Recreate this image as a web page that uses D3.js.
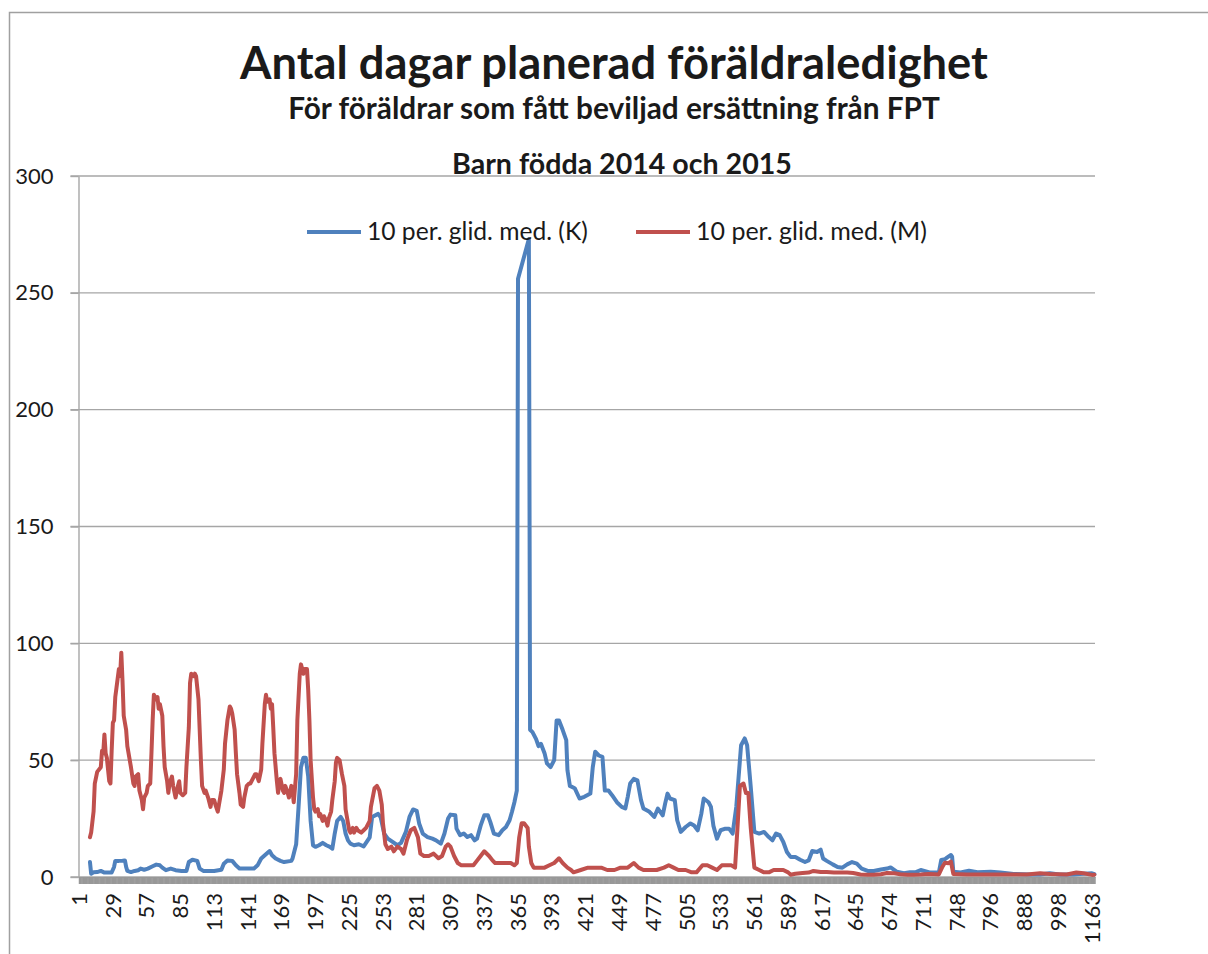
<!DOCTYPE html>
<html><head><meta charset="utf-8">
<script src="https://cdn.jsdelivr.net/npm/d3@7"></script>
<style>
body{margin:0;background:#fff}
svg text{font-family:Lato,"Open Sans",sans-serif;fill:#1a1a1a}
</style>
</head><body>
<svg id="chart" width="1208" height="954"></svg>
<script>
const titleText = "Antal dagar planerad föräldraledighet";
const subtitle1 = "För föräldrar som fått beviljad ersättning från FPT";
const subtitle2 = "Barn födda 2014 och 2015";
const seriesNames = ["10 per. glid. med. (K)", "10 per. glid. med. (M)"];
const seriesColors = ["#4f81bd", "#c0504d"];
const yTicks = [0, 50, 100, 150, 200, 250, 300];
const xTickLabels = ["1","29","57","85","113","141","169","197","225","253","281","309","337","365","393","421","449","477","505","533","561","589","617","645","674","711","748","796","888","998","1163"];
const categoryCount = 843;
const tickLabelStep = 28;

// [category index, value]
const seriesK = [[9,6.4],[10,1.4],[12,2],[15,2.1],[18,2.6],[21,1.9],[25,1.9],[27,1.9],[29,4.3],[30,6.9],[33,6.9],[36,7],[38,7.1],[39,4.3],[40,2.6],[43,2.1],[46,2.6],[49,2.9],[51,3.6],[54,3.1],[57,3.6],[61,4.6],[64,5.3],[67,5],[69,4],[72,2.9],[76,3.6],[80,2.9],[85,2.6],[89,2.6],[91,6.4],[94,7.4],[98,6.9],[100,3.6],[103,2.6],[107,2.6],[112,2.6],[118,3.1],[120,5.7],[123,7.1],[127,6.9],[130,5],[133,3.6],[137,3.6],[141,3.6],[145,3.6],[148,5],[151,7.9],[154,9.3],[158,11.1],[160,9.3],[163,7.9],[167,6.9],[170,6.4],[176,6.9],[177,7.9],[180,14],[182,30],[184,47],[186,51],[188,51],[190,43],[192,24],[194,13.6],[196,12.9],[199,13.6],[202,14.6],[205,13.6],[208,12.9],[210,12.1],[212,18.6],[214,24],[217,25.7],[219,24],[221,18.6],[223,15.7],[225,14.3],[228,13.6],[232,14],[236,13.1],[241,17],[243,25.7],[248,27],[250,25.7],[253,18.6],[256,16.4],[260,15],[264,13.6],[267,14.6],[271,19.3],[274,25.7],[277,28.9],[280,28.3],[282,22.9],[285,18.6],[289,17.1],[293,16.4],[296,15.7],[300,14.3],[303,18.6],[306,25],[308,26.7],[312,26.4],[313,20.7],[316,17.9],[319,18.6],[322,17.1],[325,17.9],[328,15.7],[330,16.4],[333,22],[336,26.4],[339,26.4],[341,23.6],[344,18.6],[348,17.9],[351,20],[354,21.4],[357,24.3],[359,27.9],[361,32],[363,37],[364,256],[373,273],[374,63],[376,62],[379,59],[381,56],[383,57],[386,53],[388,48.6],[391,47],[394,50],[396,67],[398,67],[401,63],[404,58.6],[405,45.7],[407,39],[411,38],[415,33.6],[419,34.3],[424,35.7],[426,47],[428,53.6],[431,52],[434,51.4],[436,37],[439,37],[442,35],[446,32],[450,30],[453,29.3],[455,34.3],[457,40],[460,42],[463,41.4],[466,32.9],[468,29.3],[473,27.9],[477,25.7],[480,29.3],[484,26.4],[486,31.4],[488,35.7],[490,33.6],[494,32.9],[496,24.3],[499,19.3],[503,21.4],[507,22.9],[510,22],[513,20],[516,27],[518,33.6],[522,32],[524,30],[526,22],[529,16.4],[532,20],[536,20.7],[539,20.7],[542,18.6],[545,30],[549,56.4],[552,59.3],[554,56.4],[557,38.6],[560,19.3],[564,18.6],[568,19.3],[572,17.1],[575,15.7],[578,18.6],[581,17.9],[584,15],[587,10.7],[590,8.6],[594,8.6],[598,7.4],[602,6.4],[605,7.1],[608,11.1],[612,10.7],[615,11.7],[617,7.9],[620,6.9],[625,5.4],[629,4.3],[633,4],[637,5.4],[641,6.4],[645,5.7],[649,3.6],[654,2.6],[659,2.6],[665,3.2],[670,3.6],[673,4.1],[678,2.3],[684,1.6],[689,2],[694,2.1],[698,3],[706,1.9],[713,1.9],[715,7.3],[718,7.6],[720,8.4],[723,9.4],[724,8.7],[725,2.3],[731,1.9],[738,2.7],[745,2],[756,2.3],[764,1.9],[775,1.3],[789,1.1],[797,1.1],[805,1.6],[813,1.1],[825,1.1],[830,1.3],[840,1.6],[842,1.2]];

const seriesM = [[9,17],[10,19],[12,28],[13,40],[15,45],[18,47],[19,54],[20,53],[21,61],[22,53],[23,51],[25,41],[26,40],[27,54],[28,66],[29,67],[30,77],[31,81],[33,89],[34,86],[35,96],[36,84],[37,69],[39,63],[40,56],[42,50],[43,47],[45,40],[46,39],[47,43],[49,44],[50,37],[52,33],[53,29],[54,34],[56,36],[57,39],[59,40],[60,53],[61,67],[62,78],[64,76],[65,77],[66,72],[67,74],[69,69],[70,56],[71,47],[73,41],[74,36],[75,40],[77,43],[78,39],[80,34],[82,39],[83,41],[84,36],[86,35],[88,36],[89,47],[91,64],[92,83],[93,87],[95,86],[96,87],[97,86],[99,76],[100,63],[101,50],[102,39],[104,36],[105,37],[107,34],[109,30],[110,33],[112,33],[113,31],[115,28],[116,31],[118,37],[120,46],[121,57],[123,67],[125,73],[126,72],[127,70],[129,63],[130,53],[131,44],[133,36],[134,31],[136,30],[137,34],[139,39],[141,40],[142,40],[144,42],[146,44],[147,44],[149,41],[151,46],[152,57],[154,74],[155,78],[156,75],[158,76],[159,72],[160,74],[161,64],[162,53],[164,41],[165,36],[166,40],[167,42],[169,37],[170,36],[171,39],[173,36],[174,34],[176,39],[177,37],[178,32],[180,44],[181,67],[183,87],[184,91],[186,87],[187,89],[189,89],[190,80],[191,67],[192,50],[194,34],[195,29],[196,28],[198,29],[199,26],[200,27],[202,24],[203,26],[205,24],[206,22],[207,25],[209,28],[210,33],[212,41],[213,49],[214,51],[216,50],[217,47],[218,44],[220,39],[221,29],[222,26],[223,23],[224,20],[225,19],[227,21],[228,19],[230,21],[231,20],[234,19],[236,20],[238,21],[241,24],[242,30],[245,38],[247,39],[249,37],[251,31],[252,23],[254,14],[256,12],[259,13],[261,11],[264,13],[267,12],[269,10],[272,16],[275,20],[278,21],[281,17],[283,10],[286,9],[290,9],[294,10],[298,8],[301,9],[304,13],[306,14],[308,13],[311,9],[314,6],[317,5],[322,5],[327,5],[330,7],[333,9],[336,11],[340,9],[343,7],[345,6],[350,6],[354,6],[358,6],[361,5],[363,6],[365,17],[367,23],[369,23],[372,21],[373,13],[375,6],[377,4],[382,4],[386,4],[390,5],[394,6],[398,8],[401,6],[405,4],[408,3],[410,2],[416,3],[422,4],[427,4],[433,4],[438,3],[444,3],[449,4],[455,4],[460,6],[464,4],[468,3],[474,3],[479,3],[485,4],[489,5],[493,4],[497,3],[503,3],[508,2],[512,2],[517,5],[521,5],[525,4],[529,3],[533,5],[537,5],[541,5],[544,4],[546,21],[548,39],[551,40],[553,36],[555,36],[557,21],[560,4],[564,3],[568,2],[572,2],[576,3],[580,3],[584,3],[588,2],[590,1],[594,1.4],[600,1.7],[605,1.9],[609,2.6],[615,2.1],[620,2.1],[626,1.9],[631,1.9],[637,1.9],[642,1.7],[648,1.1],[654,1],[659,1],[665,1.2],[670,1.7],[676,1.6],[681,1.2],[687,1],[692,1],[698,1.1],[705,1.3],[713,1.1],[716,4.4],[718,6.1],[721,5.9],[723,6.6],[725,1.3],[736,1.1],[753,1.1],[769,1.1],[786,1.1],[797,1.6],[805,1.3],[819,1.1],[827,1.9],[833,1.6],[840,0.9],[842,1]];

const svg = d3.select("#chart");
const plotLeft = 78.5, plotRight = 1095, plotTop = 176, plotBottom = 877;
const gridColor = "#a6a6a6";

const x = d3.scaleLinear().domain([-0.5, categoryCount - 0.5]).range([plotLeft, plotRight]);
const y = d3.scaleLinear().domain([0, 300]).range([plotBottom, plotTop]);

// outer frame
svg.append("path").attr("d", `M9.5,954 V12.5 H1208`).attr("fill", "none")
  .attr("stroke", "#a0a0a0").attr("stroke-width", 1.5);

// gridlines
svg.append("g").selectAll("line").data(yTicks).join("line")
  .attr("x1", plotLeft - 8).attr("x2", plotRight)
  .attr("y1", d => y(d)).attr("y2", d => y(d))
  .attr("stroke", gridColor).attr("stroke-width", 1.4);

// y axis
const yAxis = svg.append("g").attr("transform", `translate(${plotLeft},0)`)
  .call(d3.axisLeft(y).tickValues(yTicks).tickSize(8).tickPadding(17).tickSizeOuter(0));
yAxis.select(".domain").attr("stroke", gridColor).attr("stroke-width", 1.4);
yAxis.selectAll(".tick line").attr("stroke", gridColor).attr("stroke-width", 1.4);
yAxis.selectAll(".tick text").attr("font-size", 22).attr("font-family", "Lato").attr("fill", "#1a1a1a");

// x axis (dense category ticks)
const xAxis = svg.append("g").attr("transform", `translate(0,${plotBottom})`)
  .call(d3.axisBottom(x).tickValues(d3.range(categoryCount)).tickSize(7).tickSizeOuter(0).tickFormat(""));
xAxis.select(".domain").attr("stroke", "#999").attr("stroke-width", 1.2);
xAxis.selectAll(".tick line").attr("stroke", "#989898").attr("stroke-width", 1.7);

// x tick labels
svg.append("g").selectAll("text").data(xTickLabels).join("text")
  .attr("transform", (d, i) => `translate(${x(i * tickLabelStep)},${plotBottom + 16}) rotate(-90)`)
  .attr("text-anchor", "end").attr("dy", "0.35em")
  .attr("font-size", 22).text(d => d);

// lines
const line = d3.line().x(d => x(d[0])).y(d => y(d[1]));
[seriesK, seriesM].forEach((s, i) => {
  svg.append("path").datum(s).attr("d", line).attr("fill", "none")
    .attr("stroke", seriesColors[i]).attr("stroke-width", 4)
    .attr("stroke-linejoin", "round").attr("stroke-linecap", "round");
});

// titles
function fit(sel, w) {
  const l = sel.node().getComputedTextLength();
  sel.attr("font-size", parseFloat(sel.attr("font-size")) * w / l);
}
const t1 = svg.append("text").attr("x", 614).attr("y", 79).attr("text-anchor", "middle")
  .attr("font-weight", 700).attr("font-size", 40).text(titleText);
fit(t1, 748);
const t2 = svg.append("text").attr("x", 614).attr("y", 119).attr("text-anchor", "middle")
  .attr("font-weight", 700).attr("font-size", 22).text(subtitle1);
fit(t2, 652);
const t3 = svg.append("text").attr("x", 622).attr("y", 174).attr("text-anchor", "middle")
  .attr("font-weight", 700).attr("font-size", 22).text(subtitle2);
fit(t3, 340);

// legend
const legendX = [307, 636];
const legendTextW = [221, 231];
seriesNames.forEach((n, i) => {
  svg.append("line").attr("x1", legendX[i]).attr("x2", legendX[i] + 54)
    .attr("y1", 232).attr("y2", 232).attr("stroke", seriesColors[i]).attr("stroke-width", 4);
  const tt = svg.append("text").attr("x", legendX[i] + 60).attr("y", 240)
    .attr("font-size", 22).text(n);
  fit(tt, legendTextW[i]);
});
</script>
</body></html>
